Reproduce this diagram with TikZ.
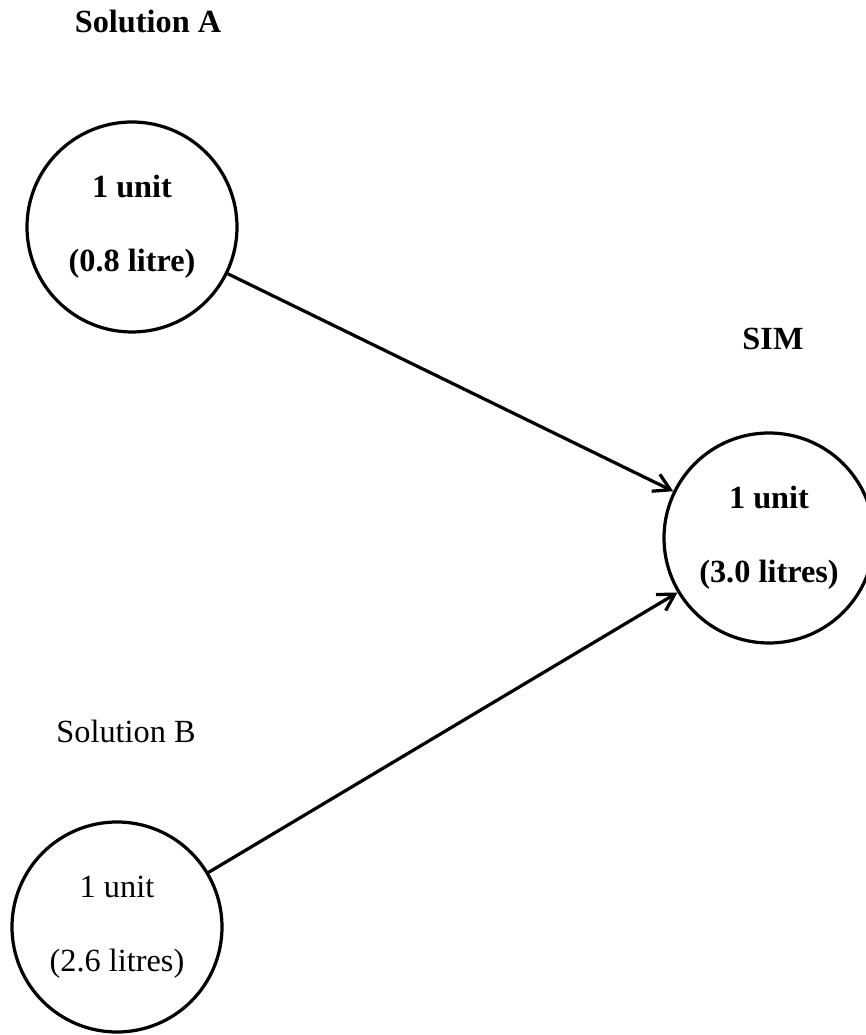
\documentclass[tikz,border=0pt]{standalone}
\usepackage{fontspec}
\setmainfont{Liberation Serif}
\usepackage{tikz}
\usetikzlibrary{arrows.meta,positioning}

\begin{document}
\begin{tikzpicture}[>={Straight Barb[length=6pt,width=7pt]},line join=bevel,
  every node/.style={font=\fontsize{12}{14}\selectfont},
  pool/.style={draw,circle,line width=1.2pt,minimum size=77.7bp,inner sep=0pt,align=center}]
\useasboundingbox (0,0) rectangle (320.42bp,382.95bp);
%%
\node (solA) at (54.76bp,374.81bp) {\bfseries Solution A};
  \node (solB) at (46.62bp,112.48bp) {Solution B};
  \node (simlab) at (286.01bp,257.5bp) {\bfseries SIM};
  \node (a) at (48.84bp,298.96bp) [pool] {\bfseries 1 unit\\[13.5pt]\bfseries (0.8 litre)};
  \node (b) at (43.29bp,39.96bp) [pool] {1 unit\\[13.5pt](2.6 litres)};
  \node (sim) at (284.53bp,183.89bp) [pool] {\bfseries 1 unit\\[13.5pt]\bfseries (3.0 litres)};
  \draw [->,line width=1.2pt] (a) -- (sim);
  \draw [->,line width=1.2pt] (b) -- (sim);
%
\end{tikzpicture}
\end{document}
